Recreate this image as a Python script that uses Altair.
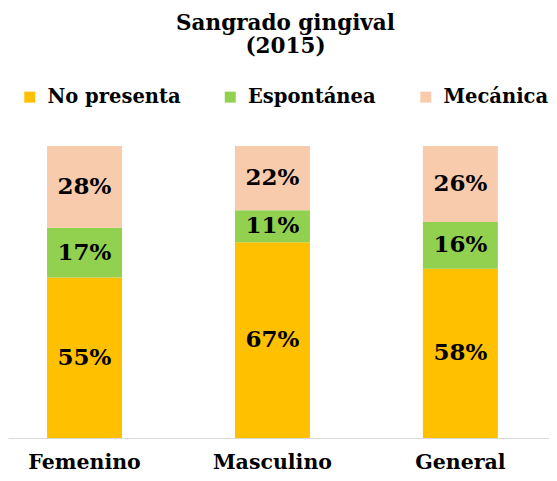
import altair as alt
import pandas as pd

grupos = ["Femenino", "Masculino", "General"]
categorias = ["No presenta", "Espontánea", "Mecánica"]
colores = ["#FFC000", "#92D050", "#F8CBAD"]
no_presenta = [55, 67, 58]
espontanea = [17, 11, 16]
mecanica = [28, 22, 26]

rows = []
for i, g in enumerate(grupos):
    for j, (cat, vals) in enumerate(zip(categorias, [no_presenta, espontanea, mecanica])):
        rows.append({"grupo": g, "categoria": cat, "valor": vals[i] / 100.0,
                     "orden": j, "etiqueta": f"{vals[i]}%"})
df = pd.DataFrame(rows)

FONT = "DejaVu Serif"

x_enc = alt.X("grupo:N", sort=grupos, title=None,
              scale=alt.Scale(paddingInner=0.601, paddingOuter=0.24, align=0.433),
              axis=alt.Axis(labelAngle=0, labelFont=FONT, labelFontWeight="bold",
                            labelFontSize=20.5, labelColor="#000000", ticks=False, tickSize=0,
                            labelPadding=30, labelBaseline="alphabetic",
                            domainColor="#D9D9D9", domainWidth=1))

base = alt.Chart(df)

bars = base.mark_bar().encode(
    x=x_enc,
    y=alt.Y("valor:Q", stack="zero", scale=alt.Scale(domain=[0, 1]), axis=None),
    color=alt.Color("categoria:N", sort=categorias,
                    scale=alt.Scale(domain=categorias, range=colores),
                    legend=alt.Legend(title=None, orient="none", direction="horizontal",
                                      columns=3, gridAlign="each", columnPadding=39.5,
                                      legendX=12, legendY=-59,
                                      symbolType="square", symbolSize=121,
                                      symbolStrokeWidth=0, labelOffset=8,
                                      labelFont=FONT, labelFontWeight="bold",
                                      labelFontSize=19.5, labelColor="#000000",
                                      labelLimit=300)),
    order=alt.Order("orden:Q"),
)

labels = base.transform_stack(
    stack="valor", groupby=["grupo"], sort=[alt.SortField("orden")], as_=["y0", "y1"]
).transform_calculate(
    mid="(datum.y0 + datum.y1) / 2"
).mark_text(font=FONT, fontWeight="bold", fontSize=23, color="#000000",
            baseline="middle").encode(
    x=alt.X("grupo:N", sort=grupos),
    y=alt.Y("mid:Q"),
    text="etiqueta:N",
)

chart = alt.layer(bars, labels).properties(
    width=541, height=292,
    title=alt.TitleParams(text=["Sangrado gingival", "(2015)"], font=FONT, fontWeight="bold",
                          fontSize=21.5, lineHeight=23, color="#000000", anchor="middle",
                          offset=30, dx=7),
    autosize=alt.AutoSizeParams(type="none"),
    padding={"left": 0, "right": 0, "top": 138, "bottom": 35},
).configure_view(stroke=None)

chart.save("out.html", embed_options={"renderer": "svg", "actions": False})
